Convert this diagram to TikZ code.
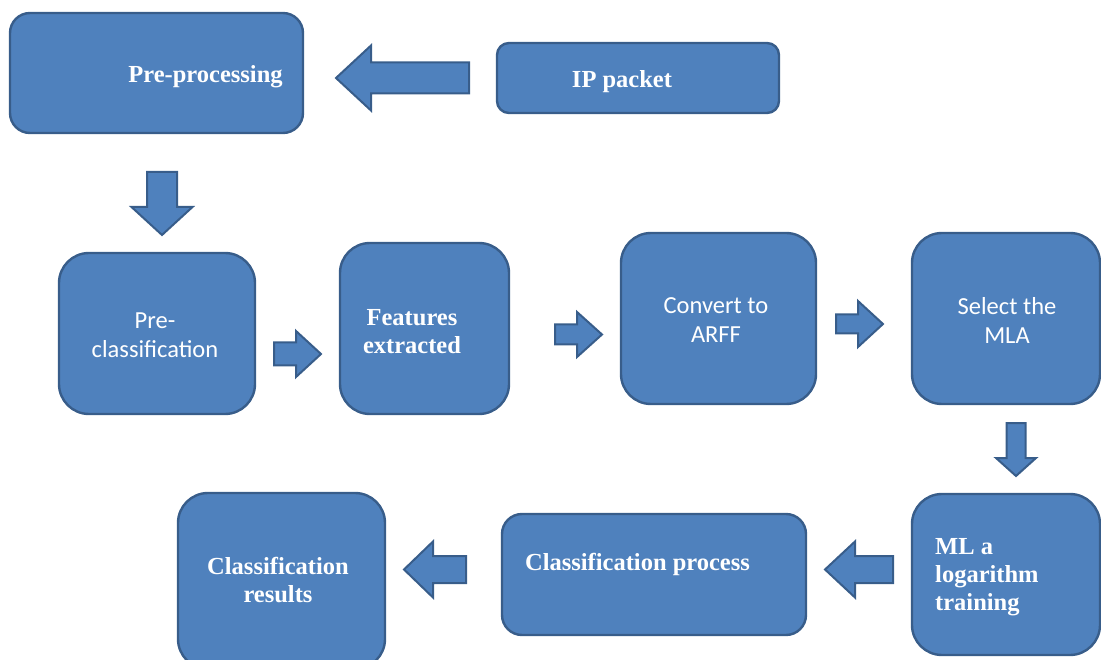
\documentclass[tikz,border=0pt]{standalone}
\usepackage{fontspec}
\setmainfont{Liberation Serif}
\newfontfamily\calibfont{Carlito}
\definecolor{boxfill}{HTML}{4F81BD}
\definecolor{boxline}{HTML}{385D8A}
\newcommand\blkarrowh[6]{% tail x, tip x, centre y, shaft half, head half, head base x
  \draw[barrow] (#1,#3-#4) -- (#6,#3-#4) -- (#6,#3-#5) -- (#2,#3) -- (#6,#3+#5) -- (#6,#3+#4) -- (#1,#3+#4) -- cycle;}
\newcommand\blkarrowv[6]{% tail y, tip y, centre x, shaft half, head half, head base y
  \draw[barrow] (#3-#4,#1) -- (#3-#4,#6) -- (#3-#5,#6) -- (#3,#2) -- (#3+#5,#6) -- (#3+#4,#6) -- (#3+#4,#1) -- cycle;}
\begin{document}
\begin{tikzpicture}[x=1pt,y=-1pt,
  box/.style={draw=boxline, fill=boxfill, line width=2.4pt, inner sep=0pt},
  barrow/.style={draw=boxline, fill=boxfill, line width=2pt, line join=miter},
  serif/.style={text=white, inner sep=0pt, font=\fontsize{24.5}{28}\selectfont\bfseries, align=center},
  sans/.style={text=white, inner sep=0pt, font=\fontsize{24.5}{29}\selectfont\calibfont, align=center}]
\useasboundingbox (0,0) rectangle (1101,660);

% boxes
\node[box, minimum width=293pt, minimum height=120pt, rounded corners=20pt] (b1) at (156.5,73) {};
\node[box, minimum width=282pt, minimum height=70pt, rounded corners=12pt] (b2) at (638,78) {};
\node[box, minimum width=196pt, minimum height=161pt, rounded corners=30pt] (b3) at (157,333.5) {};
\node[box, minimum width=169pt, minimum height=171pt, rounded corners=30pt] (b4) at (424.5,328.5) {};
\node[box, minimum width=195pt, minimum height=171pt, rounded corners=30pt] (b5) at (718.5,318.5) {};
\node[box, minimum width=188pt, minimum height=171pt, rounded corners=30pt] (b6) at (1006,318.5) {};
\node[box, minimum width=188pt, minimum height=161pt, rounded corners=30pt] (b7) at (1006,574.5) {};
\node[box, minimum width=304pt, minimum height=121pt, rounded corners=20pt] (b8) at (654,574.5) {};
\node[box, minimum width=207pt, minimum height=176pt, rounded corners=30pt] (b9) at (281.5,581) {};

% texts
\node[serif] (t1) at (205.5,76.4) {Pre-processing};
\node[serif] (t2) at (622,81.4) {IP packet};
\node[sans] (t3) at (155,335) {Pre-\\classification};
\node[serif] (t4) at (412,331.5) {Features\\extracted};
\node[sans] (t5) at (716,320) {Convert to\\ARFF};
\node[sans] (t6) at (1007,320) {Select the\\MLA};
\node[serif] (t7) at (278,580.5) {Classification\\results};
\node[serif] (t8) at (637.5,564.4) {Classification process};
\node[serif, align=left, anchor=west] (t9) at (935,577) {ML a\\logarithm\\training};

% block arrows
\blkarrowh{469}{336}{78}{15.5}{32.5}{371}
\blkarrowv{172}{235}{162}{15}{30.5}{207}
\blkarrowh{274}{321}{354}{11.5}{23}{296}
\blkarrowh{555}{602}{334.5}{10}{22.5}{577}
\blkarrowh{836}{883}{324}{9.5}{23}{858}
\blkarrowv{423}{476}{1016}{9.5}{20}{458}
\blkarrowh{893}{825}{569.5}{13.5}{28}{855}
\blkarrowh{466}{404}{569.5}{13.5}{28}{433}
\end{tikzpicture}
\end{document}
